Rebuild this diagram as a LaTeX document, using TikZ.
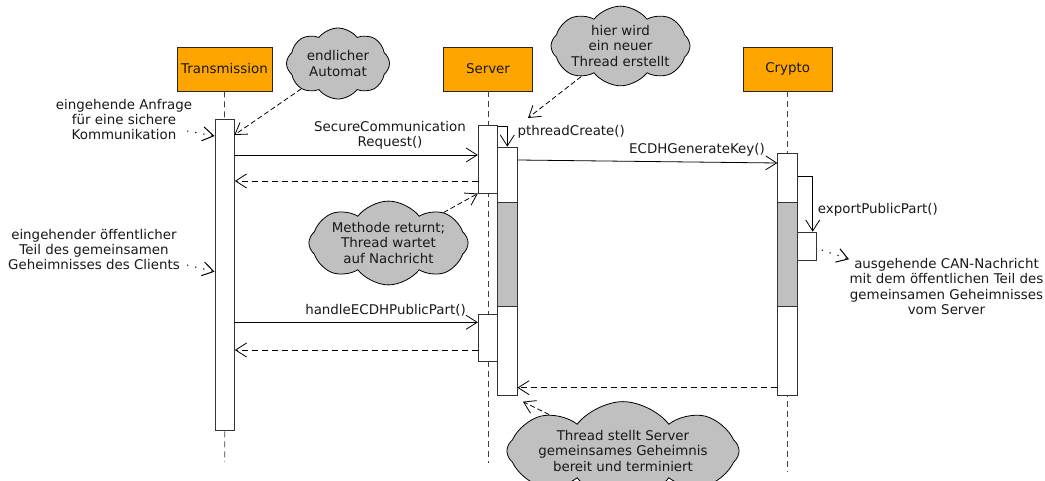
\documentclass[tikz,border=0pt]{standalone}
\usepackage{fontspec}
\setmainfont{DejaVu Sans}
\usetikzlibrary{arrows.meta,shapes.symbols,calc}
\definecolor{headorange}{HTML}{FFA500}
\definecolor{notegray}{HTML}{C0C0C0}
\begin{document}
\begin{tikzpicture}[x=1pt,y=-1pt,
  every node/.style={font=\fontsize{13.4}{15.3}\selectfont, text=black!90},
  head/.style={draw=black!85, fill=headorange, line width=0.8pt, minimum width=#1, minimum height=44pt, inner sep=0pt},
  bar/.style={draw=black!80, fill=white, line width=0.8pt, minimum width=19.5pt, inner sep=0pt, anchor=north},
  graybar/.style={bar, fill=notegray},
  lifeline/.style={draw=black!75, line width=0.8pt, dash pattern=on 6pt off 4pt},
  msg/.style={draw=black, line width=0.8pt, -{Straight Barb[length=11pt,width=14pt]}},
  ret/.style={msg, dash pattern=on 6pt off 4pt},
  dotarrow/.style={msg, line width=1pt, dash pattern=on 1.3pt off 7pt},
  notearrow/.style={msg, dash pattern=on 5pt off 3pt},
  note/.style={cloud, cloud puffs=#1, cloud puff arc=105, cloud ignores aspect, draw=black, fill=notegray, line width=0.8pt, inner sep=0pt, align=center},
  freetext/.style={align=center, inner sep=0pt}
]
\useasboundingbox (0,0) rectangle (1045,481);

% heads
\node[head=95pt] (hT) at (224.5,69) {Transmission};
\node[head=88.6pt] (hS) at (488,69) {Server};
\node[head=88.7pt] (hC) at (787.7,69) {Crypto};

% lifeline ends
\coordinate (eT) at (224.7,462);
\coordinate (eS) at (488,462.7);
\coordinate (eC) at (787.7,471.7);
\draw[lifeline] (hT.south) -- (eT);
\draw[lifeline] (hS.south) -- (eS);
\draw[lifeline] (hC.south) -- (eC);

% activation bars
\node[bar, minimum height=311pt] (tA) at (224.7,119) {};
\node[bar, minimum height=68pt] (sA1) at (488,124.7) {};
\node[bar, minimum height=248.3pt] (tb) at (507.3,146.7) {};
\node[graybar, minimum height=103.5pt] (tbg) at (507.3,202.5) {};
\node[bar, minimum height=46.7pt] (sA2) at (488,314) {};
\node[bar, minimum height=242pt] (cb) at (787.5,153) {};
\node[graybar, minimum height=103.7pt] (cbg) at (787.5,202.3) {};
\node[bar, minimum height=28.3pt] (cs) at (807,231.7) {};

% message heights
\coordinate (m1) at (0,155);
\coordinate (m2) at (0,181);
\coordinate (pc) at (0,126);
\coordinate (gk1) at (0,160);
\coordinate (gk2) at (0,163);
\coordinate (ep) at (0,176.7);
\coordinate (epx) at (812.7,0);
\coordinate (rk) at (0,387.7);
\coordinate (h1) at (0,322.3);
\coordinate (h2) at (0,350);

% messages
\draw[msg] (tA.east |- m1) -- (sA1.west |- m1);
\node[align=center] (scl) at (390,135.5) {SecureCommunication\\Request()};
\draw[ret] (sA1.west |- m2) -- (tA.east |- m2);

\draw[msg] (sA1.east |- pc) -| (tb.north);
\node[anchor=west, inner sep=0pt] (pcl) at (517.3,132) {pthreadCreate()};

\draw[msg] (tb.east |- gk1) -- (cb.west |- gk2);
\node (gkl) at (697,150) {ECDHGenerateKey()};

\draw[msg] (cb.east |- ep) -| (epx |- cs.north);
\node[anchor=west, inner sep=0pt] (epl) at (817.7,210) {exportPublicPart()};

\draw[ret] (cb.west |- rk) -- (tb.east |- rk);

\draw[msg] (tA.east |- h1) -- (sA2.west |- h1);
\node (hl) at (385.5,310) {handleECDHPublicPart()};
\draw[ret] (sA2.west |- h2) -- (tA.east |- h2);

% free texts
\node[freetext] (fA) at (124,119.5) {eingehende Anfrage\\für eine sichere\\Kommunikation};
\coordinate (sA) at (187,131);
\coordinate (yA) at (0,136);
\draw[dotarrow] (sA) -- (tA.west |- yA);

\node[freetext] (fB) at (94,249.5) {eingehender öffentlicher\\Teil des gemeinsamen\\Geheimnisses des Clients};
\coordinate (sB) at (187,265);
\coordinate (yB) at (0,271.7);
\draw[dotarrow] (sB) -- (tA.west |- yB);

\node[freetext] (fC) at (946.5,286.5) {ausgehende CAN-Nachricht\\mit dem öffentlichen Teil des\\gemeinsamen Geheimnisses\\vom Server};
\coordinate (sC) at (821.7,250);
\coordinate (tC) at (849,259.3);
\draw[dotarrow] (sC) -- (tC);

% clouds
\node[note=8, minimum width=103pt, minimum height=71pt] (n1) at (338,63.5) {endlicher\\Automat};
\node[note=8, minimum width=117pt, minimum height=70pt] (n2) at (620.5,46) {hier wird\\ein neuer\\Thread erstellt};
\node[note=8, minimum width=131pt, minimum height=71pt] (n3) at (388.5,243) {Methode returnt;\\Thread wartet\\auf Nachricht};
\node[note=8, minimum width=208pt, minimum height=72pt] (n4) at (623,451) {Thread stellt Server\\gemeinsames Geheimnis\\bereit und terminiert};

\coordinate (t1) at (234.3,135);
\coordinate (t2) at (528,118);
\coordinate (t4) at (523,401.7);
\draw[notearrow] (n1) -- (t1);
\draw[notearrow] (n2) -- (t2);
\draw[notearrow] (n3) -- (sA1.south west);
\draw[notearrow] (n4) -- (t4);
\end{tikzpicture}
\end{document}
